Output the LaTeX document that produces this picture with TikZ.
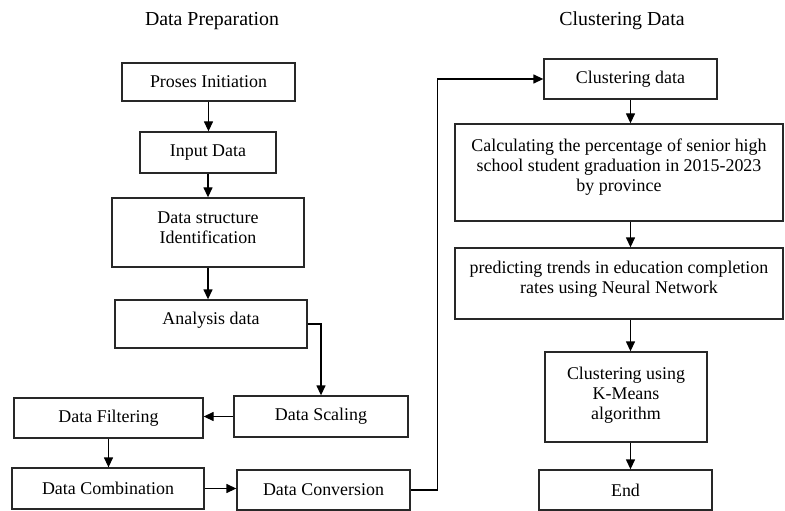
\documentclass[tikz,border=0pt]{standalone}
\usepackage{fontspec}
\setmainfont{Liberation Serif}
\usepackage{tikz}
\usetikzlibrary{arrows.meta, positioning, calc}
\definecolor{boxline}{RGB}{40,40,40}

\begin{document}
\begin{tikzpicture}[
  box/.style={draw=boxline, line width=0.75pt, align=center, inner sep=2pt,
    font=\fontsize{10.2}{11.4}\selectfont},
  arr/.style={-{Triangle[length=0.2cm, width=0.18cm]}, line width=0.75pt},
  title/.style={font=\fontsize{11.3}{13}\selectfont}]
  \useasboundingbox (0,0) rectangle (15.7,-10.22);
  % Titles
  \node[title] (prep) at (4.24,-0.42) {Data Preparation};
  \node[title] (clust) at (12.44,-0.42) {Clustering Data};
  % Data preparation column
  \node[box, minimum width=3.46cm, minimum height=0.76cm] (init) at (4.17,-1.64) {Proses Initiation};
  \node[box, minimum width=2.72cm, minimum height=0.82cm] (input) at (4.16,-3.05) {Input Data};
  \node[box, minimum width=3.84cm, minimum height=1.38cm] (struct) at (4.16,-4.65) {Data structure\\Identification\\[-0.2cm]\mbox{}};
  \node[box, minimum width=3.84cm, minimum height=0.96cm] (analysis) at (4.22,-6.48) {Analysis data\\[-0.16cm]\mbox{}};
  \node[box, minimum width=3.48cm, minimum height=0.82cm] (scaling) at (6.42,-8.33) {Data Scaling};
  \node[box, minimum width=3.78cm, minimum height=0.80cm] (filtering) at (2.17,-8.36) {Data Filtering};
  \node[box, minimum width=3.84cm, minimum height=0.82cm] (combination) at (2.16,-9.77) {Data Combination};
  \node[box, minimum width=3.46cm, minimum height=0.80cm] (conversion) at (6.47,-9.80) {Data Conversion};
  % Clustering column
  \node[box, minimum width=3.46cm, minimum height=0.80cm] (clus) at (12.61,-1.58) {Clustering data};
  \node[box, minimum width=6.56cm, minimum height=1.94cm] (calc) at (12.38,-3.45) {Calculating the percentage of senior high\\school student graduation in 2015-2023\\by province\\[-0.12cm]\mbox{}};
  \node[box, minimum width=6.56cm, minimum height=1.42cm] (predict) at (12.38,-5.67) {predicting trends in education completion\\rates using Neural Network\\[-0.16cm]\mbox{}};
  \node[box, minimum width=3.24cm, minimum height=1.80cm] (kmeans) at (12.52,-7.94) {Clustering using\\K-Means\\algorithm\\[-0.24cm]\mbox{}};
  \node[box, minimum width=3.46cm, minimum height=0.80cm] (end) at (12.51,-9.80) {End};
  % Connect
  \draw[arr] (init.south) -- (input.north -| init.south);
  \draw[arr] (input.south) -- (struct.north -| input.south);
  \draw[arr] (struct.south) -- (analysis.north -| struct.south);
  \draw[arr] (analysis.east) -| (scaling.north);
  \draw[arr] (scaling.west) -- (scaling.west -| filtering.east);
  \draw[arr] (filtering.south) -- (combination.north -| filtering.south);
  \draw[arr] (combination.east) -- (combination.east -| conversion.west);
  \draw[arr] (conversion.east) -- ++(0.54,0) |- (clus.west);
  \draw[arr] (clus.south) -- (calc.north -| clus.south);
  \draw[arr] (calc.south -| clus.south) -- (predict.north -| clus.south);
  \draw[arr] (predict.south -| clus.south) -- (kmeans.north -| clus.south);
  \draw[arr] (kmeans.south -| clus.south) -- (end.north -| clus.south);
\end{tikzpicture}
\end{document}
